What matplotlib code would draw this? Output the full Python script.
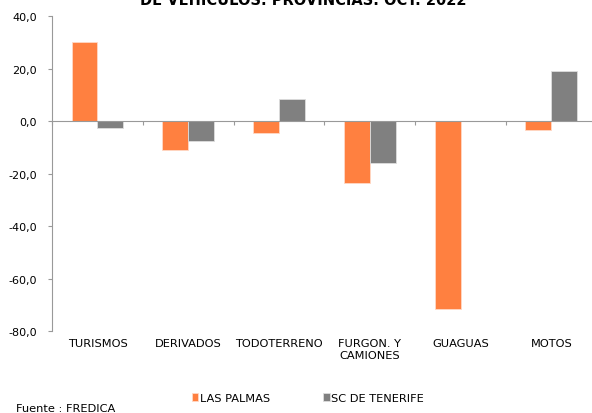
import numpy as np
import matplotlib.pyplot as plt

categorias = ['TURISMOS', 'DERIVADOS', 'TODOTERRENO', 'FURGON. Y\nCAMIONES', 'GUAGUAS', 'MOTOS']
las_palmas = [30.2, -10.9, -4.3, -23.6, -71.6, -3.4]
tenerife = [-2.5, -7.5, 8.4, -16.1, 0.0, 19.0]
yticks = [-80, -60, -40, -20, 0, 20, 40]

plt.rcParams['font.family'] = 'DejaVu Sans'
fig = plt.figure(figsize=(5.92, 4.14), dpi=100)
ax = fig.add_axes([0.088, 0.198, 0.92, 0.76])

x = np.arange(len(categorias))
w = 0.286
ax.bar(x - w / 2, las_palmas, w, color='#FF8040', edgecolor='#FFD9C6', linewidth=0.6, label='LAS PALMAS')
ax.bar(x + w / 2, tenerife, w, color='#808080', edgecolor='#DDDDDD', linewidth=0.6, label='SC DE TENERIFE')

ax.set_xlim(-0.5, len(categorias) - 0.5)
ax.set_ylim(-80, 40)
ax.set_yticks(yticks)
ax.set_yticklabels([f'{v:.1f}'.replace('.', ',') for v in yticks], fontsize=8)

# eje x en el cero, ticks entre categorias
ax.spines['bottom'].set_position(('data', 0))
ax.spines['bottom'].set_color('#999999')
ax.spines['left'].set_color('#999999')
ax.spines['top'].set_visible(False)
ax.spines['right'].set_visible(False)
ax.set_xticks(np.arange(len(categorias) + 1) - 0.5)
ax.set_xticklabels([])
ax.tick_params(axis='x', length=3, color='#999999', direction='out')
ax.tick_params(axis='y', length=3, color='#999999', pad=8)

for i, c in enumerate(categorias):
    ax.text(i, -82.5, c, ha='center', va='top', fontsize=8.2, linespacing=1.25)

# titulo cortado por el borde superior, como en la imagen original
fig.text(0.512, 1 - 5 / 414, 'DE VEHÍCULOS. PROVINCIAS. OCT. 2022', ha='center', va='baseline',
         fontsize=10.5, fontweight='bold')

fig.legend(loc='center', bbox_to_anchor=(0.52, 1 - 399 / 414), ncol=2, frameon=False, fontsize=8.2,
           handlelength=0.6, handleheight=0.6, handletextpad=0.15, columnspacing=4.6)
fig.text(0.027, 1 - 409 / 414, 'Fuente : FREDICA', fontsize=8.2, ha='left', va='center')

fig.savefig('out.png', dpi=100)
